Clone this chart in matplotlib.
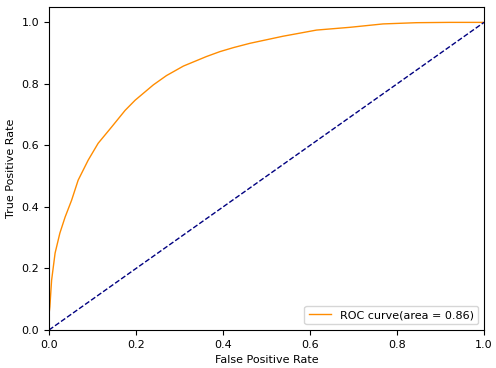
import matplotlib
matplotlib.use("Agg")
import matplotlib.pyplot as plt

# ROC curve
fpr = [0.0, 0.0, 0.002, 0.006, 0.014, 0.025, 0.037, 0.052, 0.067, 0.09, 0.113,
       0.144, 0.175, 0.198, 0.24, 0.27, 0.309, 0.362, 0.393, 0.424, 0.462,
       0.538, 0.569, 0.615, 0.692, 0.768, 0.845, 0.92, 1.0]
tpr = [0.0, 0.05, 0.076, 0.162, 0.25, 0.315, 0.367, 0.422, 0.487, 0.552, 0.607,
       0.66, 0.714, 0.747, 0.797, 0.827, 0.858, 0.889, 0.905, 0.918, 0.932,
       0.955, 0.963, 0.975, 0.984, 0.995, 0.999, 1.0, 1.0]
roc_auc = 0.86

chance = [0.0, 1.0]

fig = plt.figure(figsize=(4.96, 3.68), dpi=100)
ax = fig.add_axes([49 / 496, 38 / 368, 435 / 496, 323 / 368])

ax.plot(fpr, tpr, color='darkorange', lw=1, label='ROC curve(area = %0.2f)' % roc_auc)
ax.plot(chance, chance, color='navy', lw=1, linestyle='--')

ax.set_xlim([0.0, 1.0])
ax.set_ylim([0.0, 1.05])
ax.tick_params(labelsize=8)
ax.set_xlabel('False Positive Rate', fontsize=8)
ax.set_ylabel('True Positive Rate', fontsize=8)
ax.legend(loc='lower right', fontsize=8)

fig.savefig('out.png', dpi=100)
